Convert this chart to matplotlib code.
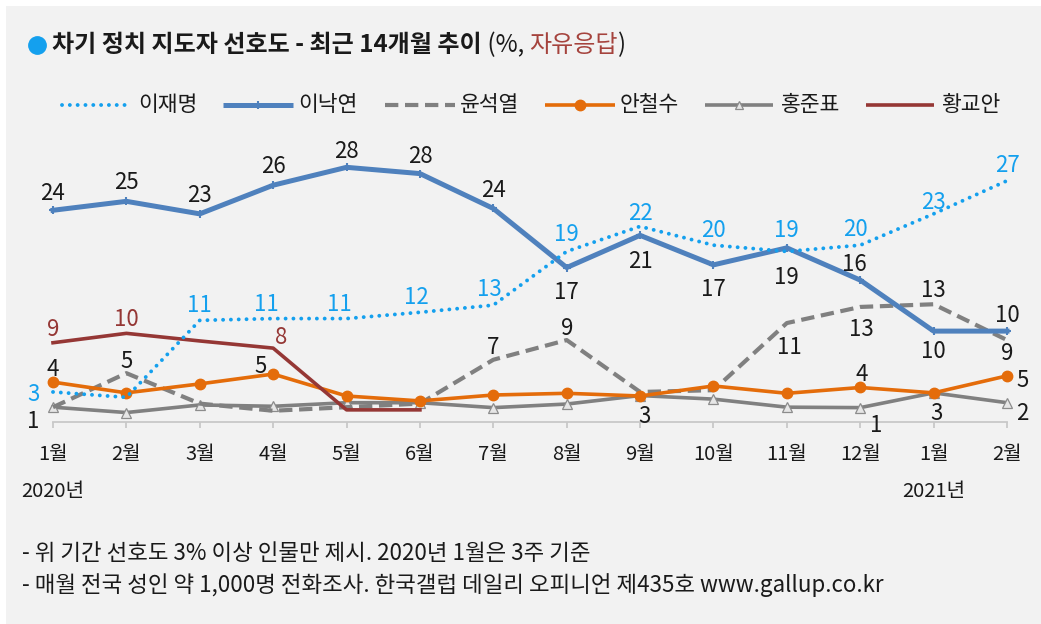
import matplotlib
matplotlib.use('Agg')
import matplotlib.pyplot as plt
from matplotlib.lines import Line2D
from matplotlib.patches import Rectangle
import matplotlib.transforms as mtrans

plt.rcParams['font.family'] = ['Noto Sans CJK KR', 'DejaVu Sans']

# ---------------- data ----------------
months = ['1월', '2월', '3월', '4월', '5월', '6월', '7월', '8월', '9월', '10월',
          '11월', '12월', '1월', '2월']
years = ['2020년', '2021년']

lee_jm = [3.3, 2.7, 11.3, 11.5, 11.5, 12.2, 13.0, 19.0, 21.8, 19.7, 19.0, 19.7, 23.2, 26.9]
lee_jm_lbl = [3, None, 11, 11, 11, 12, 13, 19, 22, 20, 19, 20, 23, 27]

lee_ny = [23.6, 24.6, 23.2, 26.4, 28.4, 27.7, 23.8, 17.2, 20.8, 17.5, 19.4, 15.8, 10.1, 10.1]
lee_ny_lbl = [24, 25, 23, 26, 28, 28, 24, 17, 21, 17, 19, 16, 10, 10]

yoon = [1.6, 5.4, 2.0, 1.2, 1.6, 2.0, 6.9, 9.1, 3.3, 3.5, 11.0, 12.8, 13.1, 9.1]
yoon_lbl = [None, 5, None, None, None, None, 7, 9, 3, None, 11, 13, 13, 9]

ahn = [4.4, 3.2, 4.2, 5.3, 2.85, 2.3, 2.96, 3.15, 2.85, 3.97, 3.15, 3.8, 3.2, 5.1]
ahn_lbl = [4, None, None, 5, None, None, None, None, None, None, None, 4, None, 5]

hong = [1.6, 1.0, 1.85, 1.7, 2.1, 2.1, 1.55, 1.95, 2.9, 2.5, 1.6, 1.55, 3.2, 2.1]
hong_lbl = [1, None, None, None, None, None, None, None, None, None, None, 1, 3, 2]

hwang = [8.8, 9.85, 9.0, 8.2, 1.3, 1.3]
hwang_lbl = [9, 10, None, 8, None, None]

names = ['이재명', '이낙연', '윤석열', '안철수', '홍준표', '황교안']

# ---------------- style ----------------
C_LJM = '#14a0ee'
C_LNY = '#4f81bd'
C_YOON = '#808080'
C_AHN = '#e46c0a'
C_HONG = '#808080'
C_HWANG = '#953735'
C_TXT = '#1a1a1a'

W, H = 1041, 624
fig = plt.figure(figsize=(W / 100, H / 100), dpi=100, facecolor='white')
fig.patches.append(Rectangle((6 / W, 0), 1 - 6 / W, (H - 6) / H, transform=fig.transFigure,
                             facecolor='#f2f2f2', edgecolor='none', zorder=-10))

x0_px, x1_px = 53, 1007
ybot_px = 421.5
px_per_unit = 8.95
ymax = 30
ax = fig.add_axes([x0_px / W, (H - ybot_px) / H, (x1_px - x0_px) / W, ymax * px_per_unit / H])
ax.set_facecolor('none')
ax.set_xlim(0, 13)
ax.set_ylim(0, ymax)
for s in ['top', 'left', 'right']:
    ax.spines[s].set_visible(False)
ax.spines['bottom'].set_color('#c8c8c8')
ax.spines['bottom'].set_linewidth(1.3)
ax.set_yticks([])
xs = list(range(len(months)))
ax.set_xticks(xs)
ax.set_xticklabels(months, fontsize=14.5, color=C_TXT)
ax.tick_params(axis='x', length=4.5, width=1.3, color='#c8c8c8', pad=12)

# lines
ax.plot(xs, hong, color=C_HONG, lw=2.6, marker='^', ms=6.5, mfc='#e6e6e6', mec='#8c8c8c',
        mew=0.9, clip_on=False, zorder=3)
ax.plot(xs, yoon, color=C_YOON, lw=3.0, linestyle=(0, (3.2, 1.6)), dash_capstyle='butt',
        clip_on=False, zorder=4)
ax.plot(xs, ahn, color=C_AHN, lw=2.6, marker='o', ms=7.5, clip_on=False, zorder=5)
ax.plot(range(len(hwang)), hwang, color=C_HWANG, lw=2.6, clip_on=False, zorder=6)
ax.plot(xs, lee_ny, color=C_LNY, lw=3.6, marker='+', ms=6, mew=1.5, clip_on=False, zorder=7)
ax.plot(xs, lee_jm, color=C_LJM, lw=2.8, linestyle=(0, (0.01, 2.0)), dash_capstyle='round',
        clip_on=False, zorder=8)

# data labels (offsets in pixels: dx, dy to glyph center)
LBL_FS = 16
cap_half_px = 0.72 * LBL_FS * 100 / 72 / 2


def put_labels(vals, lbls, offs, color):
    for i, (v, l, o) in enumerate(zip(vals, lbls, offs)):
        if l is None:
            continue
        dx, dy = o
        ax.annotate(str(l), (i, v), xytext=(dx * 0.72, (dy - cap_half_px) * 0.72),
                    textcoords='offset points', ha='center', va='baseline',
                    fontsize=LBL_FS, color=color, annotation_clip=False, zorder=10)


put_labels(lee_jm, lee_jm_lbl,
           [(-20, -1.5), None, (0, 16), (-7, 16), (-7, 16), (-4, 16), (-4, 17.5), (0, 18), (0, 14),
            (0, 16), (0, 22), (-5, 17.5), (0, 13), (0, 17)], C_LJM)
put_labels(lee_ny, lee_ny_lbl,
           [(0, 18), (0, 20), (0, 20), (0, 20), (0, 17.5), (0, 19), (0, 19), (0, -23), (0, -25),
            (0, -23), (0, -28), (-6, 17), (0, -19), (0, 17.5)], C_TXT)
put_labels(yoon, yoon_lbl,
           [None, (0, 13.5), None, None, None, None, (0, 13.5), (0, 13.5), (4, -23), None, (3, -23),
            (1, -21), (0, 15.5), (0, -12)], C_TXT)
put_labels(ahn, ahn_lbl,
           [(0, 14.5), None, None, (-13, 9), None, None, None, None, None, None, None, (2, 14), None,
            (16, -3.5)], C_TXT)
put_labels(hong, hong_lbl,
           [(-20, -12.5), None, None, None, None, None, None, None, None, None, None, (16, -16),
            (3, -19), (15, -9)], C_TXT)
put_labels(hwang, hwang_lbl, [(0, 15), (0, 15), None, (8, 12.5), None, None], C_HWANG)

# year labels under January ticks
tr = mtrans.blended_transform_factory(ax.transData, fig.transFigure)
ax.text(0, 1 - 492 / H, years[0], transform=tr, ha='center', va='center', fontsize=14.5,
        color=C_TXT)
ax.text(12, 1 - 492 / H, years[1], transform=tr, ha='center', va='center', fontsize=14.5,
        color=C_TXT)

# legend (manual)
leg_y = 1 - 105 / H
leg_items = [
    (62, 130, 138, dict(color=C_LJM, lw=2.8, linestyle=(0, (0.01, 2.0)), dash_capstyle='round'), None),
    (223, 293, 298, dict(color=C_LNY, lw=3.6), dict(marker='+', ms=6, mew=1.5, color=C_LNY)),
    (385, 455, 460, dict(color=C_YOON, lw=3.0, linestyle=(0, (3.2, 1.6)), dash_capstyle='butt'), None),
    (545, 615, 620, dict(color=C_AHN, lw=2.6), dict(marker='o', ms=7.5, color=C_AHN)),
    (705, 773, 781, dict(color=C_HONG, lw=2.6), dict(marker='^', ms=5.5, mfc='#e6e6e6', mec='#8c8c8c', mew=0.9)),
    (866, 934, 941, dict(color=C_HWANG, lw=2.6), None),
]
for (la, lb, tx, lkw, mkw), nm in zip(leg_items, names):
    fig.add_artist(Line2D([la / W, lb / W], [leg_y, leg_y], transform=fig.transFigure,
                          solid_capstyle='butt', **lkw))
    if mkw is not None:
        fig.add_artist(Line2D([(la + lb) / 2 / W], [leg_y], transform=fig.transFigure,
                              linestyle='none', **mkw))
    fig.text(tx / W, leg_y, nm, ha='left', va='center', fontsize=15.5, color=C_TXT)

# title
ty = 1 - 45 / H
TFS = 17.3
fig.add_artist(Line2D([37 / W], [ty], transform=fig.transFigure, marker='o', ms=12.5,
                      color=C_LJM, linestyle='none'))
renderer = fig.canvas.get_renderer()
t1 = fig.text(52 / W, ty, '차기 정치 지도자 선호도 - 최근 14개월 추이', ha='left', va='center',
              fontsize=TFS, fontweight='bold', color=C_TXT)
x = t1.get_window_extent(renderer).x1 / W
t2 = fig.text(x, ty, ' (%, ', ha='left', va='center', fontsize=TFS, color=C_TXT)
x = t2.get_window_extent(renderer).x1 / W
t3 = fig.text(x, ty, '자유응답', ha='left', va='center', fontsize=TFS, color='#a5433d')
x = t3.get_window_extent(renderer).x1 / W
fig.text(x, ty, ')', ha='left', va='center', fontsize=TFS, color=C_TXT)

# footnotes
fig.text(22 / W, 1 - 553 / H, '- 위 기간 선호도 3% 이상 인물만 제시. 2020년 1월은 3주 기준',
         ha='left', va='center', fontsize=16.1, color=C_TXT)
fig.text(22 / W, 1 - 585 / H,
         '- 매월 전국 성인 약 1,000명 전화조사. 한국갤럽 데일리 오피니언 제435호 www.gallup.co.kr',
         ha='left', va='center', fontsize=16.1, color=C_TXT)

fig.savefig('out.png', dpi=100, facecolor=fig.get_facecolor())
